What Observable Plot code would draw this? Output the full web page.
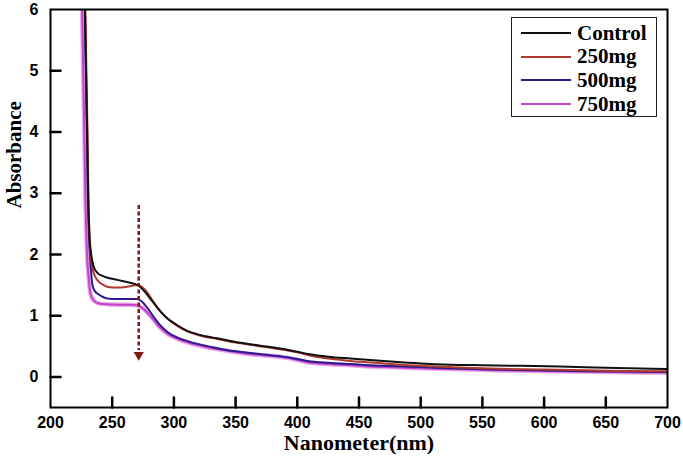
<!DOCTYPE html>
<html>
<head>
<meta charset="utf-8">
<script src="https://cdn.jsdelivr.net/npm/d3@7"></script>
<script src="https://cdn.jsdelivr.net/npm/@observablehq/plot@0.6"></script>
<style>
  html, body { margin: 0; padding: 0; background: #fff; }
  #wrap { position: relative; width: 683px; height: 459px; }
  #legend {
    position: absolute; left: 511px; top: 17px; width: 146px; height: 100px;
    border: 1.5px solid #222; box-sizing: border-box; background: #fff;
    font-family: "Liberation Serif", "DejaVu Serif", serif; font-weight: bold; font-size: 21px; color: #000;
  }
  .row { position: absolute; left: 0; height: 24px; display: flex; align-items: center; }
  .sw { display: inline-block; width: 50px; height: 0; border-top: 2px solid #000; margin-left: 9px; margin-right: 6px; }
</style>
</head>
<body>
<div id="wrap"></div>
<script>
// ---------- data ----------
const seriesNames = ["Control", "250mg", "500mg", "750mg"];
const seriesColors = ["#111111", "#b03a2e", "#2b1b8e", "#c444c8"];

const controlNm  = [227.8, 228.8, 229.7, 230.5, 231.6, 233, 235, 238, 242, 248, 255, 262, 268, 272, 276, 280, 285, 290, 295, 300, 310, 320, 335, 350, 370, 390, 400, 410, 425, 443, 470, 500, 524, 550, 580, 613, 650, 700];
const controlAbs = [6.2, 5.0, 4.0, 3.0, 2.3, 2.0, 1.8, 1.7, 1.65, 1.61, 1.58, 1.55, 1.52, 1.48, 1.40, 1.30, 1.17, 1.05, 0.95, 0.88, 0.76, 0.69, 0.63, 0.57, 0.51, 0.45, 0.41, 0.37, 0.33, 0.30, 0.26, 0.22, 0.20, 0.19, 0.18, 0.17, 0.15, 0.13];

const mg250Nm  = [228.1, 229.1, 230, 230.7, 231.6, 233, 235, 238, 243, 250, 257, 264, 270, 274, 278, 283, 290, 300, 310, 320, 335, 350, 370, 390, 400, 410, 425, 443, 470, 500, 524, 550, 600, 650, 700];
const mg250Abs = [6.2, 5.0, 4.0, 3.0, 2.3, 1.9, 1.7, 1.58, 1.50, 1.46, 1.46, 1.48, 1.50, 1.47, 1.39, 1.24, 1.05, 0.87, 0.75, 0.68, 0.62, 0.56, 0.50, 0.44, 0.40, 0.35, 0.30, 0.26, 0.22, 0.18, 0.16, 0.14, 0.12, 0.10, 0.09];

const mg500Nm  = [227.6, 228.6, 229.5, 230.2, 231.2, 232.6, 234, 236, 238, 242, 246, 255, 265, 270, 274, 278, 284, 289, 295, 303, 315, 330, 345, 362, 380, 395, 408, 425, 443, 470, 500, 524, 560, 613, 650, 700];
const mg500Abs = [6.2, 5.0, 4.0, 3.0, 2.3, 1.8, 1.5, 1.4, 1.36, 1.31, 1.28, 1.27, 1.27, 1.27, 1.23, 1.14, 0.97, 0.84, 0.73, 0.64, 0.56, 0.49, 0.43, 0.39, 0.35, 0.31, 0.26, 0.23, 0.21, 0.18, 0.16, 0.14, 0.12, 0.10, 0.09, 0.08];

const mg750Nm  = [225.5, 226.5, 227.4, 228.2, 229.5, 231, 232.4, 235, 239, 243, 255, 265, 270, 274, 278, 284, 289, 295, 303, 315, 330, 345, 362, 380, 395, 408, 425, 443, 470, 500, 524, 560, 613, 650, 700];
const mg750Abs = [6.2, 5.0, 4.0, 3.0, 2.07, 1.6, 1.36, 1.25, 1.20, 1.19, 1.18, 1.18, 1.17, 1.13, 1.06, 0.92, 0.80, 0.70, 0.62, 0.54, 0.47, 0.42, 0.37, 0.34, 0.30, 0.24, 0.21, 0.19, 0.16, 0.14, 0.13, 0.11, 0.09, 0.08, 0.07];

const xTicks = [200, 250, 300, 350, 400, 450, 500, 550, 600, 650, 700];
const yTicks = [0, 1, 2, 3, 4, 5, 6];
const xTitle = "Nanometer(nm)";
const yTitle = "Absorbance";

// annotation arrow (data units)
const arrowNm = [271.5];
const arrowTop = [2.8];
const arrowEnd = [0.43];
const arrowHead = [0.36];

// ---------- build table ----------
const nmArrays = [controlNm, mg250Nm, mg500Nm, mg750Nm];
const absArrays = [controlAbs, mg250Abs, mg500Abs, mg750Abs];
const rows = [];
seriesNames.forEach((s, i) => nmArrays[i].forEach((nm, j) => rows.push({series: s, nm, abs: absArrays[i][j]})));
const arrow = arrowNm.map((nm, i) => ({nm, top: arrowTop[i], end: arrowEnd[i], head: arrowHead[i]}));
const order = ["750mg", "500mg", "250mg", "Control"];

const W = 683, H = 459, ML = 50, MR = 16, MT = 9, MB = 52, TICK = 10;
const xDomain = [200, 700], yDomain = [-0.5, 6];
const frameW = W - ML - MR, frameH = H - MT - MB;
const tickLenY = TICK * (yDomain[1] - yDomain[0]) / frameH;
const tickLenX = TICK * (xDomain[1] - xDomain[0]) / frameW;
const tickPaths = [];
xTicks.slice(1, -1).forEach(v => {
  tickPaths.push({id: "x" + v, nm: v, abs: yDomain[0]});
  tickPaths.push({id: "x" + v, nm: v, abs: yDomain[0] + tickLenY});
});
yTicks.slice(0, -1).forEach(v => {
  tickPaths.push({id: "y" + v, nm: xDomain[0], abs: v});
  tickPaths.push({id: "y" + v, nm: xDomain[0] + tickLenX, abs: v});
});

const plot = Plot.plot({
  width: W,
  height: H,
  marginLeft: ML,
  marginRight: MR,
  marginTop: MT,
  marginBottom: MB,
  style: {background: "#fff"},
  x: {domain: xDomain},
  y: {domain: yDomain},
  color: {domain: seriesNames, range: seriesColors},
  marks: [
    Plot.line(rows.filter(d => d.series === "750mg"), {x: "nm", y: "abs", stroke: "#e9aaec", strokeWidth: 4.5, curve: "monotone-x", clip: true}),
    ...order.map(s => Plot.line(rows.filter(d => d.series === s), {x: "nm", y: "abs", stroke: "series", strokeWidth: 2, curve: "monotone-x", clip: true})),
    Plot.ruleX(arrow, {x: "nm", y1: "top", y2: "end", stroke: "#7a1a12", strokeWidth: 2.5, strokeDasharray: "4,2.5"}),
    Plot.dot(arrow, {x: "nm", y: "head", symbol: "triangle", rotate: 180, r: 3.8, fill: "#7a1a12", stroke: "none"}),
    Plot.axisX({ticks: xTicks, tickSize: 0, tickPadding: 9, tickFormat: d => String(d), label: null, fontFamily: "Liberation Sans, Arial, sans-serif", fontWeight: "bold", fontSize: 16, color: "#000"}),
    Plot.axisY({ticks: yTicks, tickSize: 0, tickPadding: 12, tickFormat: d => String(d), label: null, fontFamily: "Liberation Sans, Arial, sans-serif", fontWeight: "bold", fontSize: 16, color: "#000"}),
    Plot.frame({stroke: "#000", strokeWidth: 2}),
    Plot.line(tickPaths, {x: "nm", y: "abs", z: "id", stroke: "#000", strokeWidth: 2.5, curve: "linear"}),
    Plot.text([xTitle], {text: d => d, frameAnchor: "bottom", lineAnchor: "middle", dy: 35, fontFamily: "Liberation Serif, serif", fontWeight: "bold", fontSize: 22, fill: "#000"}),
    Plot.text([yTitle], {text: d => d, frameAnchor: "left", dx: -36, rotate: -90, fontFamily: "Liberation Serif, serif", fontWeight: "bold", fontSize: 21, fill: "#000"})
  ]
});

const wrap = document.getElementById("wrap");
wrap.appendChild(plot);

const legend = document.createElement("div");
legend.id = "legend";
seriesNames.forEach((s, i) => {
  const row = document.createElement("div");
  row.className = "row";
  row.style.top = (3 + i * 23.7) + "px";
  const sw = document.createElement("span");
  sw.className = "sw";
  sw.style.borderTopColor = seriesColors[i];
  const t = document.createElement("span");
  t.textContent = s;
  row.appendChild(sw);
  row.appendChild(t);
  legend.appendChild(row);
});
wrap.appendChild(legend);
</script>
</body>
</html>
